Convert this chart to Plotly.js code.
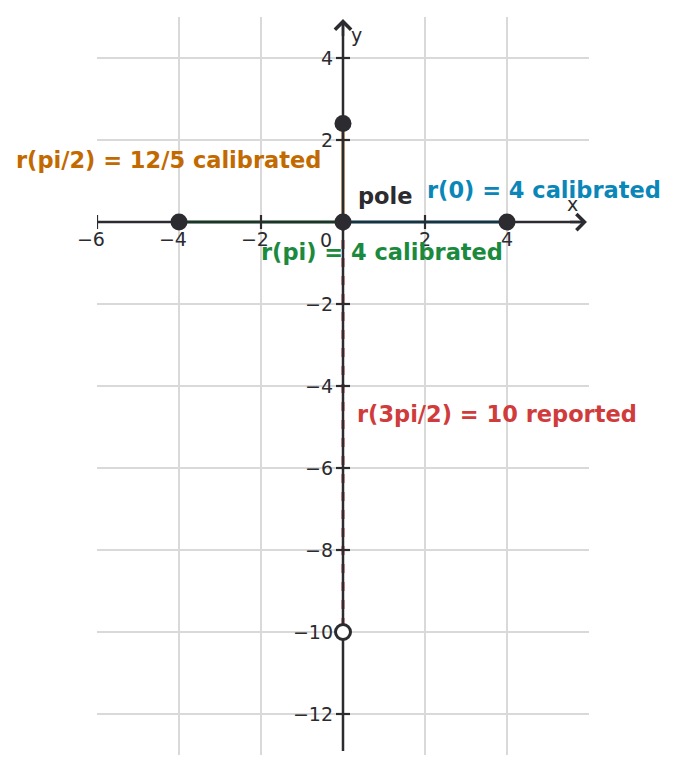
<!DOCTYPE html>
<html>
<head>
<meta charset="utf-8">
<script src="https://cdn.plot.ly/plotly-3.0.1.min.js"></script>
<style>
  html, body { margin: 0; padding: 0; background: #fff; }
  #graph { width: 682px; height: 773px; }
</style>
</head>
<body>
<div id="graph"></div>
<script>
// polar points converted to x,y
var labels = ['r(0) = 4 calibrated', 'r(pi/2) = 12/5 calibrated', 'r(pi) = 4 calibrated', 'r(3pi/2) = 10 reported'];
var pointX = [4, 0, -4];
var pointY = [0, 2.4, 0];
var reportedX = [0];
var reportedY = [-10];
var poleX = [0];
var poleY = [0];

var xTicks = [-6, -4, -2, 2, 4];
var yTicks = [-12, -10, -8, -6, -4, -2, 2, 4];

var dark = '#2b2b30';
var orange = '#c26a00';
var blue = '#0a87b8';
var green = '#1b8a3e';
var red = '#d03c3c';
var font = 'DejaVu Sans, sans-serif';

//rays from the pole
function ray(x, y, color, dash) {
  return {
    x: [0, x], y: [0, y], mode: 'lines', hoverinfo: 'skip',
    line: {color: color, width: 3, dash: dash || 'solid'}
  };
}

function minus(v) {
  return v < 0 ? '\u2212' + (-v) : '' + v;
}

var data = [
  ray(pointX[0], pointY[0], blue),
  ray(pointX[1], pointY[1], orange),
  ray(pointX[2], pointY[2], green),
  ray(reportedX[0], reportedY[0], red, 'dash'),
  //axis lines
  {x: [-6, 5.85], y: [0, 0], mode: 'lines', line: {color: dark, width: 2.5}, hoverinfo: 'skip'},
  {x: [0, 0], y: [-12.9, 4.85], mode: 'lines', line: {color: dark, width: 2.5}, hoverinfo: 'skip'},
  //tick marks crossing the axes
  {x: xTicks, y: xTicks.map(function () { return 0; }), mode: 'markers', hoverinfo: 'skip',
   marker: {symbol: 'line-ns-open', color: dark, size: 10, line: {color: dark, width: 2.2}}},
  {x: yTicks.map(function () { return 0; }), y: yTicks, mode: 'markers', hoverinfo: 'skip',
   marker: {symbol: 'line-ew-open', color: dark, size: 10, line: {color: dark, width: 2.2}}},
  //points
  {x: pointX.concat(poleX), y: pointY.concat(poleY), mode: 'markers',
   marker: {color: dark, size: 17, line: {width: 0}}},
  {x: reportedX, y: reportedY, mode: 'markers',
   marker: {color: '#ffffff', size: 15, line: {color: dark, width: 3}}}
];

function note(x, y, text, color, anchor) {
  return {x: x, y: y, text: '<b>' + text + '</b>', showarrow: false, xanchor: anchor, yanchor: 'middle',
          font: {family: font, size: 22.5, color: color}};
}

var annotations = [
  note(-0.48, 1.51, labels[1], orange, 'right'),
  note(2.0, 0.79, labels[0], blue, 'left'),
  note(0.32, 0.64, 'pole', dark, 'left'),
  note(0.95, -0.74, labels[2], green, 'center'),
  note(0.3, -4.68, labels[3], red, 'left'),
  {x: 5.6, y: 0.45, text: 'x', showarrow: false, font: {family: font, size: 19, color: dark}},
  {x: 0.34, y: 4.57, text: 'y', showarrow: false, font: {family: font, size: 19, color: dark}},
  {x: -0.42, y: -0.45, text: '0', showarrow: false, font: {family: font, size: 19, color: dark}},
  //arrow heads
  {x: 5.95, y: 0, ax: 5.5, ay: 0, axref: 'x', ayref: 'y', text: '', showarrow: true,
   arrowhead: 4, arrowsize: 1.25, arrowwidth: 2.5, arrowcolor: dark, standoff: 0},
  {x: 0, y: 4.95, ax: 0, ay: 4.5, axref: 'x', ayref: 'y', text: '', showarrow: true,
   arrowhead: 4, arrowsize: 1.25, arrowwidth: 2.5, arrowcolor: dark, standoff: 0}
];

var layout = {
  width: 682,
  height: 773,
  margin: {l: 97, r: 93, t: 17, b: 18},
  showlegend: false,
  paper_bgcolor: '#ffffff',
  plot_bgcolor: '#ffffff',
  font: {family: font, size: 19, color: dark},
  xaxis: {
    range: [-6, 6], tickvals: xTicks,
    ticktext: xTicks.map(function (v) { return v < 0 ? minus(v) + '\u2007' : minus(v); }),
    showgrid: true, gridcolor: '#d9d9d9', gridwidth: 1.5, zeroline: false, showline: false,
    ticks: '', anchor: 'free', position: 13 / 18, ticklabelstandoff: 4, fixedrange: true
  },
  yaxis: {
    range: [-13, 5], tickvals: yTicks, ticktext: yTicks.map(minus),
    showgrid: true, gridcolor: '#d9d9d9', gridwidth: 1.5, zeroline: false, showline: false,
    ticks: '', anchor: 'free', position: 0.5, ticklabelstandoff: 10, fixedrange: true
  },
  annotations: annotations
};

Plotly.newPlot('graph', data, layout, {displayModeBar: false, staticPlot: true});
</script>
</body>
</html>
